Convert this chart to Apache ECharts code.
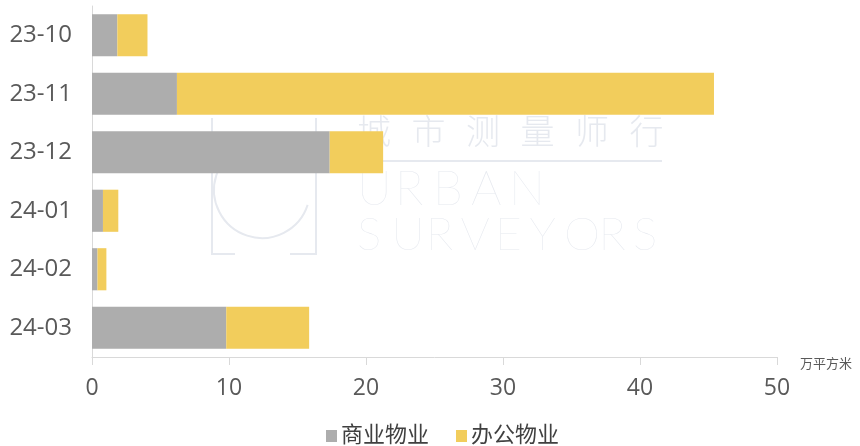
<!DOCTYPE html>
<html>
<head>
<meta charset="utf-8">
<script src="https://cdn.jsdelivr.net/npm/echarts@6/dist/echarts.min.js"></script>
<style>
  html, body { margin: 0; padding: 0; background: #fff; }
  #chart { width: 860px; height: 446px; }
</style>
</head>
<body>
<div id="chart"></div>
<script>
const months = ['23-10', '23-11', '23-12', '24-01', '24-02', '24-03']
const commercial = [1.85, 6.2, 17.35, 0.8, 0.4, 9.8]
const office = [2.2, 39.2, 3.9, 1.12, 0.65, 6.05]
const xTicks = [0, 10, 20, 30, 40, 50]

const font = "'Open Sans', 'Noto Sans CJK SC', sans-serif"
const wmColor = '#e6e9ef'

// faint watermark behind the bars
const wm = []
'城市测量师行'.split('').forEach((c, i) => {
  wm.push({type: 'text', left: 357 + i * 54.5, top: 114, z: -1,
    style: {text: c, fill: wmColor, font: "300 34px 'Noto Sans CJK SC'"}})
})
wm.push({type: 'rect', shape: {x: 357, y: 160, width: 305, height: 2}, z: -1, style: {fill: wmColor}})
'URBAN'.split('').forEach((c, i) => {
  wm.push({type: 'text', left: 357 + i * 38, top: 166, z: -1,
    style: {text: c, fill: wmColor, font: "200 48px Lato"}})
})
'SURVEYORS'.split('').forEach((c, i) => {
  wm.push({type: 'text', left: 357 + i * 34.5, top: 212, z: -1,
    style: {text: c, fill: wmColor, font: "200 46px Lato"}})
})
wm.push({type: 'arc', shape: {cx: 262, cy: 190, r: 48, startAngle: Math.PI * 0.1, endAngle: Math.PI * 1.5}, z: -1,
  style: {stroke: wmColor, lineWidth: 2, fill: null}})
wm.push({type: 'polyline', shape: {points: [[212, 118], [212, 254], [235, 254]]}, z: -1,
  style: {stroke: wmColor, lineWidth: 2, fill: null}})
wm.push({type: 'polyline', shape: {points: [[316, 118], [316, 254], [290, 254]]}, z: -1,
  style: {stroke: wmColor, lineWidth: 2, fill: null}})

const option = {
  animation: false,
  textStyle: {fontFamily: font},
  graphic: wm,
  grid: {left: 92, right: 83, top: 6, bottom: 89},
  legend: {
    left: 321, top: 420,
    itemWidth: 11, itemHeight: 12, itemGap: 27,
    icon: 'rect',
    textStyle: {fontSize: 22, color: '#404040', padding: [0, 0, 0, -1]},
    data: ['商业物业', '办公物业']
  },
  xAxis: {
    type: 'value',
    min: 0, max: 50, interval: 10,
    name: '万平方米',
    nameGap: 23,
    nameTextStyle: {fontSize: 13, color: '#595959', verticalAlign: 'top', padding: [1, 0, 0, 0]},
    axisLine: {show: true, lineStyle: {color: '#d9d9d9'}},
    axisTick: {show: true, length: 8, lineStyle: {color: '#d9d9d9'}},
    splitLine: {show: false},
    axisLabel: {fontSize: 23, color: '#595959', margin: 20,
      formatter: v => xTicks.includes(v) ? String(v) : ''}
  },
  yAxis: {
    type: 'category',
    inverse: true,
    data: months,
    axisLine: {lineStyle: {color: '#d9d9d9'}},
    axisTick: {length: 8, lineStyle: {color: '#d9d9d9'}},
    axisLabel: {fontSize: 24, color: '#595959', margin: 20}
  },
  series: [
    {name: '商业物业', type: 'bar', stack: 'total', data: commercial,
      barCategoryGap: '28%', itemStyle: {color: '#adadad'}},
    {name: '办公物业', type: 'bar', stack: 'total', data: office,
      itemStyle: {color: '#f2cd5c'}}
  ]
}

const c = echarts.init(document.getElementById('chart'))
c.setOption(option)
</script>
</body>
</html>
